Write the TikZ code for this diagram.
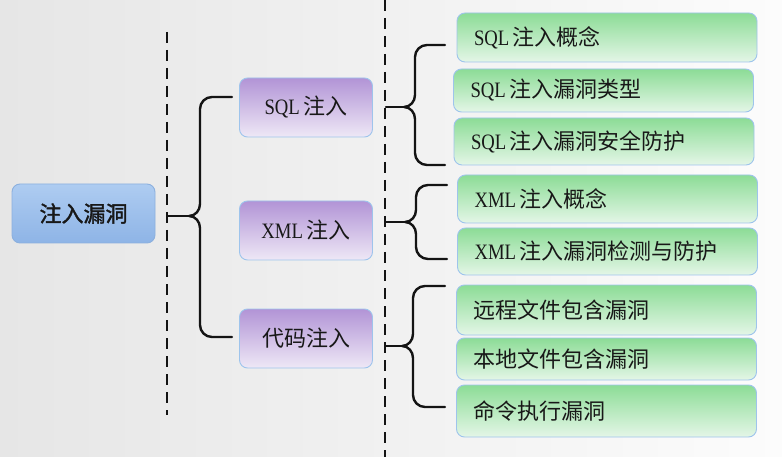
\documentclass[tikz,border=0pt]{standalone}
\usepackage{fontspec}
\setmainfont[FakeStretch=0.85]{Liberation Serif}
\newfontfamily\cjk{Noto Sans CJK SC}
\newfontfamily\cjkb[FakeBold=1.6]{Noto Sans CJK SC}
\definecolor{bgl}{RGB}{230,230,230}
\definecolor{bgr}{RGB}{252,252,252}
\definecolor{gtop}{RGB}{140,220,150}
\definecolor{gbot}{RGB}{228,246,231}
\definecolor{ptop}{RGB}{178,148,214}
\definecolor{pbot}{RGB}{238,232,246}
\definecolor{btop}{RGB}{174,204,241}
\definecolor{bbot}{RGB}{142,180,230}
\definecolor{edge}{RGB}{158,196,236}
\definecolor{ink}{RGB}{24,24,24}
\tikzset{
  box/.style={rectangle, rounded corners=8pt, draw=edge, line width=0.9pt, inner sep=0pt, text=ink, font=\fontsize{22}{25}\selectfont},
  rootbox/.style={box, top color=btop, bottom color=bbot, draw={rgb,255:red,140;green,176;blue,222}, minimum width=143pt, minimum height=59pt},
  midbox/.style={box, top color=ptop, bottom color=pbot, minimum width=133pt, minimum height=59pt},
  leafbox/.style={box, top color=gtop, bottom color=gbot, text width=266pt, align=left, inner xsep=17pt},
  dashline/.style={line width=2.8pt, dash pattern=on 11pt off 7pt, black!92},
  bracepath/.style={line width=2.4pt, black!92, line cap=round, line join=round}
}
\begin{document}
\begin{tikzpicture}[x=1pt,y=-1pt]
\shade[left color=bgl, right color=bgr] (0,0) rectangle (782,457);
\useasboundingbox (0,0) rectangle (782,457);

% dashed separators
\coordinate (d1t) at (167,32);
\coordinate (d1b) at (167,415);
\coordinate (d2t) at (385,0);
\coordinate (d2b) at (385,457);
\draw[dashline] (d1t) -- (d1b);
\draw[dashline] (d2t) -- (d2b);

% nodes
\node[rootbox] (root) at (83.5,213.5) {\cjkb 注入漏洞};
\node[midbox] (sql) at (306,107.5) {SQL\,\cjk 注入};
\node[midbox] (xml) at (306,230.5) {XML\,\cjk 注入};
\node[midbox] (code) at (306,338.5) {\cjk 代码注入};

\node[leafbox, minimum height=49pt] (g1) at (607,37.5) {SQL\,\cjk 注入概念};
\node[leafbox, minimum height=43pt] (g2) at (603.5,90.5) {SQL\,\cjk 注入漏洞类型};
\node[leafbox, minimum height=47pt] (g3) at (604,141.5) {SQL\,\cjk 注入漏洞安全防护};
\node[leafbox, minimum height=48pt] (g4) at (607.5,199) {XML\,\cjk 注入概念};
\node[leafbox, minimum height=47pt] (g5) at (607.5,251.5) {XML\,\cjk 注入漏洞检测与防护};
\node[leafbox, minimum height=50pt] (g6) at (606.5,310) {\cjk 远程文件包含漏洞};
\node[leafbox, minimum height=42pt] (g7) at (606.5,359) {\cjk 本地文件包含漏洞};
\node[leafbox, minimum height=52pt] (g8) at (606.5,411) {\cjk 命令执行漏洞};

% brace 1 : root -> second level
\coordinate (s1) at (168,216);
\coordinate (t1) at (232,97);
\coordinate (b1) at (232,337);
\draw[bracepath] (t1) -- (212,97) to[out=180,in=90] (200,109) -- (200,204)
  to[out=-90,in=0] (189,216) to[out=0,in=90] (200,228) -- (200,325)
  to[out=-90,in=180] (212,337) -- (b1);
\draw[bracepath] (s1) -- (189,216);

% brace 2 : SQL
\coordinate (s2) at (386,107);
\coordinate (t2) at (445,45);
\coordinate (b2) at (445,165);
\draw[bracepath] (t2) -- (427,45) to[out=180,in=90] (415,57) -- (415,95)
  to[out=-90,in=0] (404,107) to[out=0,in=90] (415,119) -- (415,153)
  to[out=-90,in=180] (427,165) -- (b2);
\draw[bracepath] (s2) -- (404,107);

% brace 3 : XML
\coordinate (s3) at (386,222);
\coordinate (t3) at (447,185);
\coordinate (b3) at (447,259);
\draw[bracepath] (t3) -- (428,185) to[out=180,in=90] (416,197) -- (416,210)
  to[out=-90,in=0] (405,222) to[out=0,in=90] (416,234) -- (416,247)
  to[out=-90,in=180] (428,259) -- (b3);
\draw[bracepath] (s3) -- (405,222);

% brace 4 : code
\coordinate (s4) at (386,346);
\coordinate (t4) at (445,286);
\coordinate (b4) at (445,407);
\draw[bracepath] (t4) -- (425,286) to[out=180,in=90] (413,298) -- (413,334)
  to[out=-90,in=0] (402,346) to[out=0,in=90] (413,358) -- (413,395)
  to[out=-90,in=180] (425,407) -- (b4);
\draw[bracepath] (s4) -- (402,346);
\end{tikzpicture}
\end{document}
